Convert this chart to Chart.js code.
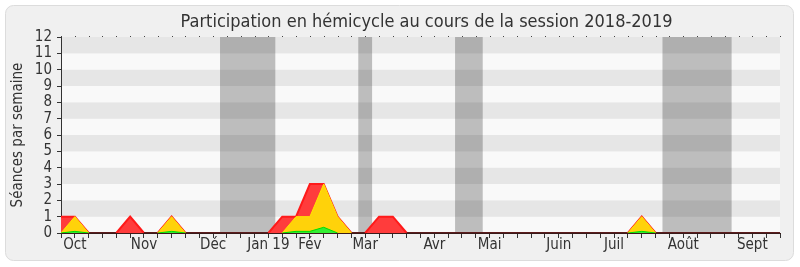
<!DOCTYPE html>
<html lang="fr">
<head>
<meta charset="utf-8">
<script src="https://cdn.jsdelivr.net/npm/chart.js@4"></script>
<style>
  html, body { margin: 0; padding: 0; background: #fff; }
  canvas { display: block; }
</style>
</head>
<body>
<canvas id="participation" width="800" height="267"></canvas>
<script>
// one entry per week of the session, month names on the first week shown
const semaines = [
    "", "Oct", "", "", "", "", "Nov", "", "", "", "", "Déc", "", "", "", "Jan 19", "", "", "Fév", "", "", "",
    "Mar", "", "", "", "", "Avr", "", "", "", "Mai", "", "", "", "", "Juin", "", "", "", "Juil", "", "", "", "",
    "Août", "", "", "", "", "Sept", "", ""
];

const presences = [
    1, 1, 0, 0, 0, 1, 0, 0, 1, 0, 0, 0, 0, 0, 0, 0, 1, 1, 3, 3, 1, 0, 0, 1, 1, 0,
    0, 0, 0, 0, 0, 0, 0, 0, 0, 0, 0, 0, 0, 0, 0, 0, 1, 0, 0, 0, 0, 0, 0, 0, 0, 0, 0
];
const participations = [
    0, 1, 0, 0, 0, 0, 0, 0, 1, 0, 0, 0, 0, 0, 0, 0, 0, 1, 1, 3, 1, 0, 0, 0, 0, 0,
    0, 0, 0, 0, 0, 0, 0, 0, 0, 0, 0, 0, 0, 0, 0, 0, 1, 0, 0, 0, 0, 0, 0, 0, 0, 0, 0
];
const interventions = [
    0, 0.1, 0, 0, 0, 0, 0, 0, 0.1, 0, 0, 0, 0, 0, 0, 0, 0, 0.1, 0.1, 0.35, 0, 0, 0, 0, 0, 0,
    0, 0, 0, 0, 0, 0, 0, 0, 0, 0, 0, 0, 0, 0, 0, 0, 0.1, 0, 0, 0, 0, 0, 0, 0, 0, 0, 0
];

// vacances parlementaires, en semaines
const vacances = [[11.5, 15.5], [21.5, 22.5], [28.5, 30.5], [43.5, 48.5]];

const titre = "Participation en hémicycle au cours de la session 2018-2019";
const police = "'DejaVu Sans Condensed', 'DejaVu Sans', sans-serif";

const aZero = (c) => c.p0.parsed.y === 0 && c.p1.parsed.y === 0;
// no coloured line along the baseline where a series stays at zero
const masqueZero = (c) => (aZero(c) ? "rgba(0,0,0,0)" : undefined);
const baseRouge = (c) => (aZero(c) ? "#5c1c1c" : undefined);

const fond = {
    id: "fond",
    beforeDraw(chart) {
        const { ctx, chartArea: a, scales: { x, y } } = chart;
        ctx.save();
        ctx.fillStyle = "#fff";
        ctx.fillRect(0, 0, chart.width, chart.height);
        ctx.beginPath();
        ctx.roundRect(5.5, 5.5, chart.width - 12, chart.height - 12, 8);
        ctx.fillStyle = "#f0f0f0";
        ctx.fill();
        ctx.strokeStyle = "#dcdcdc";
        ctx.stroke();

        for (let v = 0; v < 12; v++) {
            const top = y.getPixelForValue(v + 1);
            const bot = y.getPixelForValue(v);
            ctx.fillStyle = v % 2 ? "#e6e6e6" : "#f9f9f9";
            ctx.fillRect(a.left, top, a.right - a.left, bot - top);
        }

        ctx.fillStyle = "rgba(0,0,0,0.24)";
        vacances.forEach(([s, e]) => {
            const l = x.getPixelForValue(s);
            const r = x.getPixelForValue(e);
            ctx.fillRect(l, a.top, r - l, a.bottom - a.top);
        });

        // petits repères hebdomadaires au-dessus du graphe
        ctx.fillStyle = "#444";
        x.ticks.forEach((t, i) => {
            ctx.fillRect(Math.round(x.getPixelForTick(i)), a.top - 1, 1, 1);
        });

        ctx.fillStyle = "#333";
        ctx.font = "18px " + police;
        ctx.textAlign = "center";
        ctx.textBaseline = "alphabetic";
        ctx.fillText(titre, (a.left + a.right) / 2 + 6, 26.5);
        ctx.restore();
    }
};

Chart.defaults.font.family = police;
Chart.defaults.font.size = 15;
Chart.defaults.color = "#333";

new Chart(document.getElementById("participation"), {
    type: "line",
    data: {
        labels: semaines,
        datasets: [
            { label: "Interventions", data: interventions, order: 0, borderColor: "#00dd00", backgroundColor: "#33ee33", borderWidth: 1, fill: "origin", pointRadius: 0, tension: 0, segment: { borderColor: masqueZero } },
            { label: "Participations", data: participations, order: 1, borderColor: "#ffe600", backgroundColor: "#ffd20a", borderWidth: 1, fill: "origin", pointRadius: 0, tension: 0, segment: { borderColor: masqueZero } },
            { label: "Présences", data: presences, order: 2, borderColor: "#ff1a1a", backgroundColor: "#ff3c3c", borderWidth: 2, fill: "origin", pointRadius: 0, tension: 0, segment: { borderColor: baseRouge } }
        ]
    },
    options: {
        responsive: false,
        animation: false,
        layout: { padding: { top: 37, left: 0, right: 20, bottom: 0 } },
        plugins: {
            legend: { display: false },
            tooltip: { enabled: false }
        },
        scales: {
            x: {
                z: 1,
                offset: false,
                grid: { drawOnChartArea: false, drawTicks: true, tickLength: 5, color: "#333" },
                border: { color: "#3a1a1a" },
                ticks: { autoSkip: false, maxRotation: 0, padding: -2, color: "#333" },
                afterFit(scale) { scale.height = 34; }
            },
            y: {
                min: 0,
                max: 12,
                grid: { drawOnChartArea: false, tickLength: 4, color: "#333" },
                border: { color: "#333" },
                ticks: { stepSize: 1, autoSkip: false, padding: 5, color: "#333" },
                title: { display: true, text: "Séances par semaine", padding: { top: 9, bottom: 0 }, color: "#333" },
                afterFit(scale) { scale.width = 61; }
            }
        }
    },
    plugins: [fond]
});
</script>
</body>
</html>
